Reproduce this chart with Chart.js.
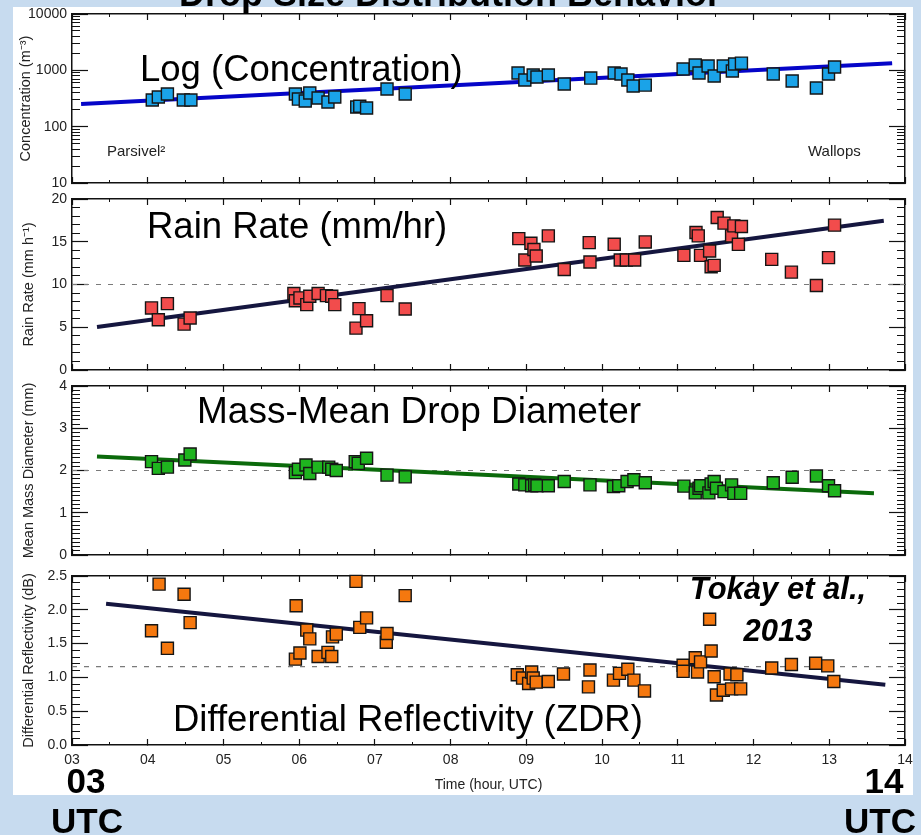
<!DOCTYPE html>
<html>
<head>
<meta charset="utf-8">
<script src="https://cdn.jsdelivr.net/npm/chart.js@4.4.1/dist/chart.umd.min.js"></script>
<style>
html,body{margin:0;padding:0;}
body{width:921px;height:835px;position:relative;overflow:hidden;background:#c7dbef;font-family:"Liberation Sans",Arial,Helvetica,sans-serif;}
#sheet{position:absolute;left:13px;top:7px;width:900px;height:788px;background:#ffffff;}
canvas{position:absolute;left:0;}
.t{position:absolute;white-space:nowrap;color:#000;line-height:1;}
</style>
</head>
<body>
<div id="sheet"></div>
<canvas id="c1" width="921" height="189" style="top:4px"></canvas>
<canvas id="c2" width="921" height="191" style="top:189px"></canvas>
<canvas id="c3" width="921" height="189" style="top:376px"></canvas>
<canvas id="c4" width="921" height="229" style="top:566px"></canvas>

<div class="t" style="left:0;width:900px;text-align:center;top:-24px;font-size:36px;font-weight:bold;">Drop Size Distribution Behavior</div>
<div class="t" style="left:140px;top:51px;font-size:36.5px;">Log (Concentration)</div>
<div class="t" style="left:107px;top:143px;font-size:15px;color:#222;">Parsivel²</div>
<div class="t" style="left:808px;top:143px;font-size:15px;color:#222;">Wallops</div>
<div class="t" style="left:147px;top:208px;font-size:36.5px;">Rain Rate (mm/hr)</div>
<div class="t" style="left:197px;top:392px;font-size:37px;">Mass-Mean Drop Diameter</div>
<div class="t" style="left:173px;top:701px;font-size:36.5px;">Differential Reflectivity (ZDR)</div>
<div class="t" style="left:678px;width:200px;text-align:center;top:568px;font-size:31px;line-height:42px;font-weight:bold;font-style:italic;">Tokay et al.,<br>2013</div>
<div class="t" style="left:36px;width:100px;text-align:center;top:763px;font-size:35px;font-weight:bold;">03</div>
<div class="t" style="left:37px;width:100px;text-align:center;top:803px;font-size:35px;font-weight:bold;">UTC</div>
<div class="t" style="left:834px;width:100px;text-align:center;top:763px;font-size:35px;font-weight:bold;">14</div>
<div class="t" style="left:830px;width:100px;text-align:center;top:803px;font-size:35px;font-weight:bold;">UTC</div>

<script>
const FONT = '"Liberation Sans", Arial, Helvetica, sans-serif';
const AX = '#111111';

// ---- time axis (hour, UTC) ----
const hourTicks = [3,4,5,6,7,8,9,10,11,12,13,14];
const hourLabels = ['03','04','05','06','07','08','09','10','11','12','13','14'];

// ---- Panel 1: concentration (m^-3), log scale ----
const concTicks = [10, 100, 1000, 10000];
const concTickLabels = ['10', '100', '1000', '10000'];
const concTime = [4.06,4.14,4.26,4.47,4.57,5.95,5.99,6.08,6.14,6.25,6.38,6.47,6.76,6.80,6.89,7.16,7.40,
  8.89,8.98,9.09,9.14,9.29,9.50,9.85,10.16,10.25,10.34,10.41,10.57,11.07,11.23,11.28,11.40,11.48,11.60,11.72,11.75,11.84,12.26,12.51,12.83,12.99,13.07];
const concValues = [297,336,380,297,297,380,309,285,395,322,274,336,223,230,214,466,380,
  895,673,826,760,826,571,729,895,860,673,526,547,1054,1242,895,1194,792,1194,973,1293,1340,860,646,485,860,1145];
const concFitTime = [3.12, 13.83];
const concFitValues = [252, 1334];

// ---- Panel 2: rain rate (mm/h) ----
const rainTicks = [0, 5, 10, 15, 20];
const rainTickLabels = ['0', '5', '10', '15', '20'];
const rainTime = [4.05,4.14,4.26,4.48,4.56,5.93,5.95,6.01,6.10,6.14,6.25,6.36,6.43,6.47,6.75,6.79,6.89,7.16,7.40,
  8.90,8.98,9.06,9.10,9.13,9.29,9.50,9.83,9.84,10.16,10.24,10.32,10.43,10.57,11.08,11.24,11.27,11.30,11.42,11.44,11.48,
  11.52,11.61,11.71,11.74,11.80,11.84,12.24,12.50,12.83,12.99,13.07];
const rainValues = [7.26,5.88,7.76,5.37,6.08,8.94,8.10,8.43,7.65,8.63,8.94,8.70,8.63,7.65,4.90,7.18,5.76,8.70,7.14,
  15.37,12.86,14.82,14.10,13.33,15.69,11.76,14.90,12.63,14.70,12.86,12.86,12.86,14.98,13.41,16.08,15.69,13.41,13.92,12.08,12.24,
  17.84,17.18,15.69,16.86,14.70,16.78,12.94,11.45,9.88,13.14,16.94];
const rainFitTime = [3.33, 13.72];
const rainFitValues = [5.02, 17.45];
const rainRef = 10;

// ---- Panel 3: mass-mean drop diameter (mm) ----
const dmTicks = [0, 1, 2, 3, 4];
const dmTickLabels = ['0', '1', '2', '3', '4'];
const dmTime = [4.05,4.14,4.26,4.49,4.56,5.95,5.99,6.09,6.14,6.25,6.39,6.43,6.49,6.74,6.78,6.89,7.16,7.40,
  8.90,8.98,9.07,9.11,9.14,9.29,9.50,9.84,10.15,10.22,10.33,10.42,10.57,11.08,11.23,11.28,11.30,11.41,11.44,11.48,11.51,
  11.61,11.71,11.74,11.83,12.26,12.51,12.83,12.99,13.07];
const dmValues = [2.21,2.05,2.08,2.25,2.39,1.95,2.03,2.13,1.93,2.08,2.08,2.03,2.00,2.21,2.17,2.29,1.89,1.85,
  1.68,1.66,1.64,1.66,1.64,1.64,1.74,1.66,1.62,1.64,1.74,1.78,1.71,1.63,1.47,1.58,1.64,1.47,1.68,1.74,1.58,
  1.50,1.66,1.46,1.46,1.71,1.84,1.87,1.64,1.52];
const dmFitTime = [3.33, 13.59];
const dmFitValues = [2.33, 1.46];
const dmRef = 2.0;

// ---- Panel 4: differential reflectivity (dB) ----
const zdrTicks = [0, 0.5, 1.0, 1.5, 2.0, 2.5];
const zdrTickLabels = ['0.0', '0.5', '1.0', '1.5', '2.0', '2.5'];
const zdrTime = [4.05,4.15,4.26,4.48,4.56,5.95,5.96,6.01,6.10,6.14,6.25,6.38,6.43,6.44,6.49,6.75,6.80,6.89,7.15,7.16,7.40,
  8.88,8.95,9.03,9.07,9.09,9.13,9.29,9.49,9.84,9.82,10.15,10.23,10.34,10.42,10.56,11.07,11.07,11.23,11.26,11.30,11.42,11.44,
  11.48,11.51,11.60,11.69,11.71,11.78,11.83,12.24,12.50,12.82,12.98,13.06];
const zdrValues = [1.69,2.38,1.43,2.23,1.81,1.27,2.06,1.36,1.70,1.57,1.31,1.37,1.31,1.60,1.64,2.42,1.74,1.88,1.52,1.65,2.21,
  1.04,0.99,0.91,1.08,0.99,0.93,0.94,1.05,1.11,0.86,0.96,1.06,1.12,0.96,0.80,1.18,1.09,1.29,1.08,1.23,1.86,1.39,
  1.01,0.74,0.81,1.05,0.83,1.04,0.83,1.14,1.19,1.21,1.17,0.94];
const zdrFitTime = [3.45, 13.74];
const zdrFitValues = [2.09, 0.89];
const zdrRef = 1.16;

// ---- minor tick helpers (axis decoration only) ----
function linearMinor(major, perInterval) {
  const out = [];
  for (let i = 0; i < major.length - 1; i++) {
    const a = major[i], b = major[i + 1];
    for (let k = 1; k < perInterval; k++) out.push(a + (b - a) * k / perInterval);
  }
  return out;
}
function logMinor(major) {
  const out = [];
  for (let i = 0; i < major.length - 1; i++) for (let m = 2; m <= 9; m++) out.push(major[i] * m);
  return out;
}
const halfHourTicks = linearMinor(hourTicks, 2);

function setTicks(list) { return function (axis) { axis.ticks = list.map(v => ({ value: v })); }; }
function fixSize(w, h) {
  return function (s) {
    if (w !== null) s.width = w;
    if (h !== null) s.height = h;
    s.paddingTop = 0; s.paddingBottom = 0; s.paddingLeft = 0; s.paddingRight = 0;
  };
}

function xScales(showX) {
  const base = { type: 'linear', min: hourTicks[0], max: hourTicks[hourTicks.length - 1] };
  const minorGrid = { drawOnChartArea: false, tickLength: -3, tickColor: AX, tickWidth: 1 };
  const majorGrid = { drawOnChartArea: false, tickLength: -6, tickColor: AX, tickWidth: 1.2, color: AX };
  return {
    x: Object.assign({}, base, {
      position: 'bottom', weight: 1,
      afterBuildTicks: setTicks(hourTicks),
      afterFit: fixSize(null, showX ? 50 : 0),
      border: { display: true, color: AX, width: 1.5 },
      grid: majorGrid,
      ticks: { display: showX, autoSkip: false, maxRotation: 0, padding: 13, color: '#222',
        font: { family: FONT, size: 14 }, callback: (v, i) => hourLabels[i] },
      title: { display: showX, text: 'Time (hour, UTC)', color: '#222', font: { family: FONT, size: 14 },
        padding: { top: 0, bottom: 1 } }
    }),
    xm: Object.assign({}, base, {
      position: 'bottom', weight: 0, afterBuildTicks: setTicks(halfHourTicks),
      afterFit: fixSize(null, 0), border: { display: false }, grid: minorGrid, ticks: { display: false }
    }),
    xt: Object.assign({}, base, {
      position: 'top', weight: 1, afterBuildTicks: setTicks(hourTicks),
      afterFit: fixSize(null, 0), border: { display: true, color: AX, width: 1.5 }, grid: majorGrid, ticks: { display: false }
    }),
    xtm: Object.assign({}, base, {
      position: 'top', weight: 0, afterBuildTicks: setTicks(halfHourTicks),
      afterFit: fixSize(null, 0), border: { display: false }, grid: minorGrid, ticks: { display: false }
    })
  };
}

function yScales(p) {
  const base = { type: p.type, min: p.min, max: p.max };
  const majorGrid = { drawOnChartArea: false, tickLength: -16, tickColor: AX, tickWidth: 1.2, color: AX };
  const minorGrid = { drawOnChartArea: false, tickLength: -8, tickColor: AX, tickWidth: 1 };
  return {
    y: Object.assign({}, base, {
      position: 'left', weight: 1, afterBuildTicks: setTicks(p.ticks),
      afterFit: fixSize(72, null),
      border: { display: true, color: AX, width: 1.5 }, grid: majorGrid,
      ticks: { padding: 21, color: '#222', font: { family: FONT, size: 14 }, callback: (v, i) => p.labels[i] },
      title: { display: true, text: p.title, color: '#222', font: { family: FONT, size: 14.5 },
        padding: { top: p.titlePad, bottom: 0 } }
    }),
    ym: Object.assign({}, base, {
      position: 'left', weight: 0, afterBuildTicks: setTicks(p.minor),
      afterFit: fixSize(0, null), border: { display: false }, grid: minorGrid, ticks: { display: false }
    }),
    yr: Object.assign({}, base, {
      position: 'right', weight: 1, afterBuildTicks: setTicks(p.ticks),
      afterFit: fixSize(0, null), border: { display: true, color: AX, width: 1.5 }, grid: majorGrid, ticks: { display: false }
    }),
    yrm: Object.assign({}, base, {
      position: 'right', weight: 0, afterBuildTicks: setTicks(p.minor),
      afterFit: fixSize(0, null), border: { display: false }, grid: minorGrid, ticks: { display: false }
    })
  };
}

function makePanel(id, p) {
  const pts = p.time.map((t, i) => ({ x: t, y: p.values[i] }));
  const fit = p.fitTime.map((t, i) => ({ x: t, y: p.fitValues[i] }));
  const datasets = [
    { data: pts, pointStyle: 'rect', pointRadius: 8.5, pointBackgroundColor: p.color,
      pointBorderColor: '#151515', pointBorderWidth: 1.4, showLine: false, clip: false },
    { data: fit, showLine: true, borderColor: p.lineColor, borderWidth: 4, pointRadius: 0, fill: false }
  ];
  if (p.ref !== undefined) {
    datasets.push({ data: [{ x: hourTicks[0], y: p.ref }, { x: hourTicks[hourTicks.length - 1], y: p.ref }],
      showLine: true, borderColor: '#7a7a7a', borderWidth: 1.2, borderDash: [5, 7], pointRadius: 0, fill: false });
  }
  const scales = Object.assign({}, xScales(!!p.showX), yScales(p));
  new Chart(document.getElementById(id), {
    type: 'scatter',
    data: { datasets },
    options: {
      responsive: false, animation: false, devicePixelRatio: 1, events: [],
      layout: { autoPadding: false, padding: { top: 10, bottom: p.showX ? 0 : 10, left: 0, right: 16 } },
      plugins: { legend: { display: false }, tooltip: { enabled: false } },
      scales
    }
  });
}

makePanel('c1', { type: 'logarithmic', min: 10, max: 10000, ticks: concTicks, labels: concTickLabels,
  minor: logMinor(concTicks), title: 'Concentration (m⁻³)', titlePad: 17,
  time: concTime, values: concValues, fitTime: concFitTime, fitValues: concFitValues,
  color: '#1aa3e8', lineColor: '#0505c8' });
makePanel('c2', { type: 'linear', min: 0, max: 20, ticks: rainTicks, labels: rainTickLabels,
  minor: linearMinor(rainTicks, 5), title: 'Rain Rate (mm h⁻¹)', titlePad: 20,
  time: rainTime, values: rainValues, fitTime: rainFitTime, fitValues: rainFitValues, ref: rainRef,
  color: '#f24c4c', lineColor: '#15163f' });
makePanel('c3', { type: 'linear', min: 0, max: 4, ticks: dmTicks, labels: dmTickLabels,
  minor: linearMinor(dmTicks, 10), title: 'Mean Mass Diameter (mm)', titlePad: 20,
  time: dmTime, values: dmValues, fitTime: dmFitTime, fitValues: dmFitValues, ref: dmRef,
  color: '#1fb41f', lineColor: '#0b6a0b' });
makePanel('c4', { type: 'linear', min: 0, max: 2.5, ticks: zdrTicks, labels: zdrTickLabels,
  minor: linearMinor(zdrTicks, 5), title: 'Differential Reflectivity (dB)', titlePad: 20,
  time: zdrTime, values: zdrValues, fitTime: zdrFitTime, fitValues: zdrFitValues, ref: zdrRef,
  color: '#f5780f', lineColor: '#15163f', showX: true });
</script>
</body>
</html>
